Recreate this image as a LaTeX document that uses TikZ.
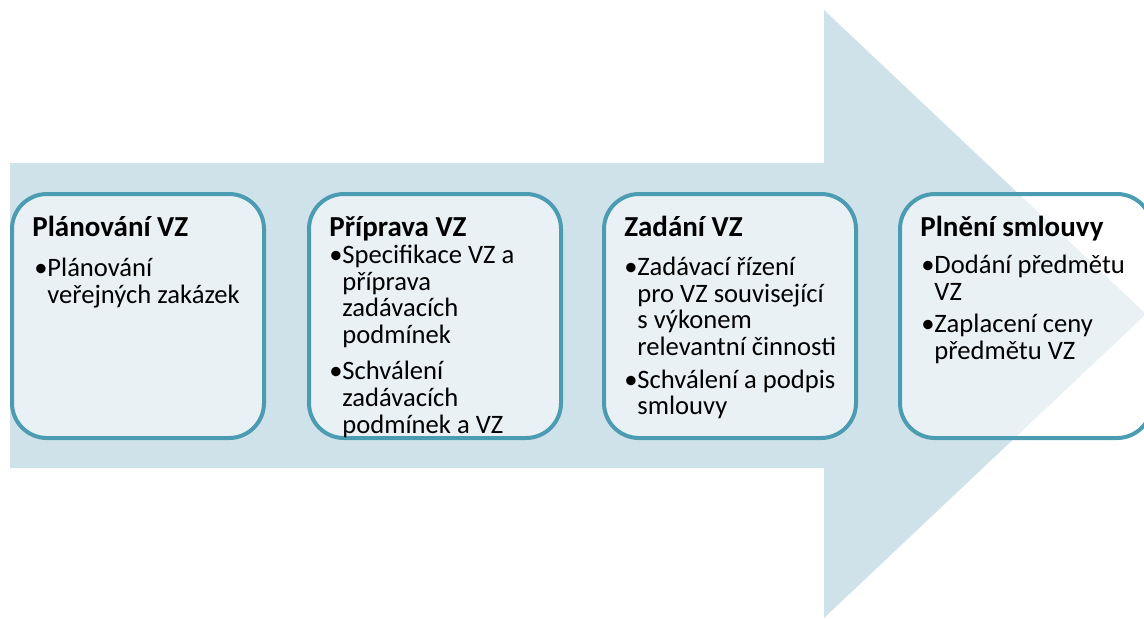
\documentclass[tikz,border=0pt]{standalone}
\usepackage{fontspec}
\setmainfont{Carlito}
\usepackage{tikz}
\usetikzlibrary{positioning, calc}
\definecolor{arrowfill}{RGB}{208,226,233}
\definecolor{boxline}{RGB}{75,156,179}
\newcommand{\bul}{\rule{0pt}{12pt}\makebox[6.5pt][l]{\textbullet}}
\newcommand{\ind}{\hspace*{6.5pt}}
\tikzset{
    stage/.style={rectangle, rounded corners=17.5pt, draw=boxline, line width=2pt, fill=white, fill opacity=0.55, minimum width=126pt, minimum height=122pt},
    stagetitle/.style={anchor=base west, inner sep=0pt, font=\fontsize{14.5}{16}\selectfont\bfseries},
    stagetext/.style={anchor=north west, inner sep=0pt, align=left, font=\fontsize{13.3}{13.35}\selectfont}
}
\begin{document}
\begin{tikzpicture}[x=0.5pt, y=-0.5pt]
  \clip (0,0) rectangle (1144,618);
  % background arrow
  \fill[arrowfill] (10,163) -- (824,163) -- (824,10) -- (1146,314) -- (824,618) -- (824,468) -- (10,468) -- cycle;
  % stages
  \node[stage] (plan) at (138,316) {};
  \node[stage] (prep) at (435,316) {};
  \node[stage] (award) at (730,316) {};
  \node[stage] (exec) at (1026,316) {};
  % titles
  \node[stagetitle] (plantitle) at ($(plan.north west)+(22,44)$) {Plánování VZ};
  \node[stagetitle] (preptitle) at ($(prep.north west)+(22,44)$) {Příprava VZ};
  \node[stagetitle] (awardtitle) at ($(award.north west)+(22,44)$) {Zadání VZ};
  \node[stagetitle] (exectitle) at ($(exec.north west)+(22,44)$) {Plnění smlouvy};
  % bullet texts
  \node[stagetext] (plantext) at ($(plan.north west)+(24,60)$)
    {\bul Plánování\\ \ind veřejných zakázek};
  \node[stagetext] (preptext) at ($(prep.north west)+(22,47)$)
    {\bul Specifikace VZ a\\ \ind příprava\\ \ind zadávacích\\ \ind podmínek\\[3pt]
     \bul Schválení\\ \ind zadávacích\\ \ind podmínek a VZ};
  \node[stagetext] (awardtext) at ($(award.north west)+(22,59)$)
    {\bul Zadávací řízení\\ \ind pro VZ související\\ \ind s výkonem\\ \ind relevantní činnosti\\[3pt]
     \bul Schválení a podpis\\ \ind smlouvy};
  \node[stagetext] (exectext) at ($(exec.north west)+(23,57)$)
    {\bul Dodání předmětu\\ \ind VZ\\[3pt]
     \bul Zaplacení ceny\\ \ind předmětu VZ};
\end{tikzpicture}
\end{document}
